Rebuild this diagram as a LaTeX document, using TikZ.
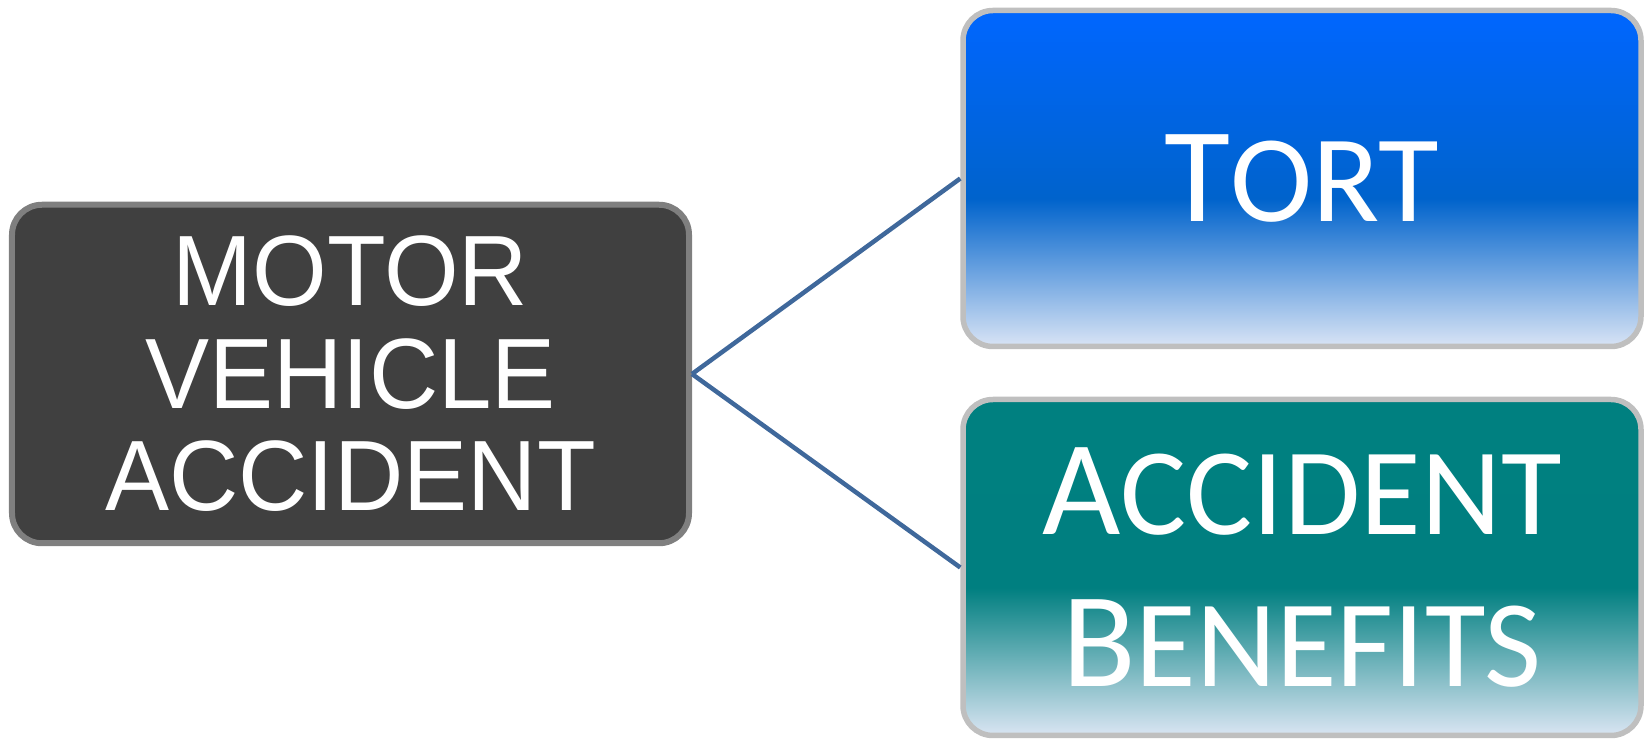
\documentclass[tikz,border=0pt]{standalone}
\usepackage{fontspec}
\setmainfont{Liberation Sans}
\newfontfamily\mvafont[FakeStretch=0.96]{Liberation Sans}
\newfontfamily\branchfont{Carlito}
\usepackage{tikz}

\definecolor{mvafill}{HTML}{404040}
\definecolor{mvaborder}{HTML}{7F7F7F}
\definecolor{branchborder}{HTML}{BFBFBF}
\definecolor{linkblue}{HTML}{3F689B}
\definecolor{torttop}{HTML}{0066FF}
\definecolor{tortmid}{HTML}{0063CC}
\definecolor{tortlow}{HTML}{D9E4F5}
\definecolor{abtop}{HTML}{008080}
\definecolor{abmid}{HTML}{007F80}
\definecolor{ablow}{HTML}{DAE5F3}

\pgfdeclareverticalshading{tortshade}{100bp}{color(0bp)=(tortlow); color(25bp)=(tortlow); color(47bp)=(tortmid); color(75bp)=(torttop); color(100bp)=(torttop)}
\pgfdeclareverticalshading{abshade}{100bp}{color(0bp)=(ablow); color(25bp)=(ablow); color(47bp)=(abmid); color(75bp)=(abtop); color(100bp)=(abtop)}

% first letter of a word set larger
\newcommand{\scbig}[1]{{\fontsize{77}{86.3}\selectfont #1}}

\begin{document}
\begin{tikzpicture}[
    mainbox/.style={draw=mvaborder, fill=mvafill, line width=0.12cm, rounded corners=0.6cm, minimum width=13.54cm, minimum height=6.77cm, align=center, text=white, font=\mvafont\fontsize{56.9}{58.3}\selectfont},
    branch/.style={draw=branchborder, line width=0.11cm, rounded corners=0.6cm, minimum width=13.56cm, minimum height=6.72cm, align=center, text=white, font=\branchfont\fontsize{70.6}{86.3}\selectfont},
    link/.style={draw=linkblue, line width=0.09cm}]
    \useasboundingbox (0,0) rectangle (32.96,14.78);

    % Motor vehicle accident
    \node[mainbox] (mva) at (7.01,7.30) {MOTOR\\VEHICLE\\ACCIDENT};

    % Tort
    \node[branch, shade, shading=tortshade] (tort) at (26.04,11.21) {\scbig{T}ORT};

    % Accident benefits
    \node[branch, shade, shading=abshade] (ab) at (26.04,3.43) {\scbig{A}CCIDENT\\\scbig{B}ENEFITS};

    % Links
    \draw[link] (mva.east) -- (tort.west);
    \draw[link] (mva.east) -- (ab.west);
\end{tikzpicture}
\end{document}
